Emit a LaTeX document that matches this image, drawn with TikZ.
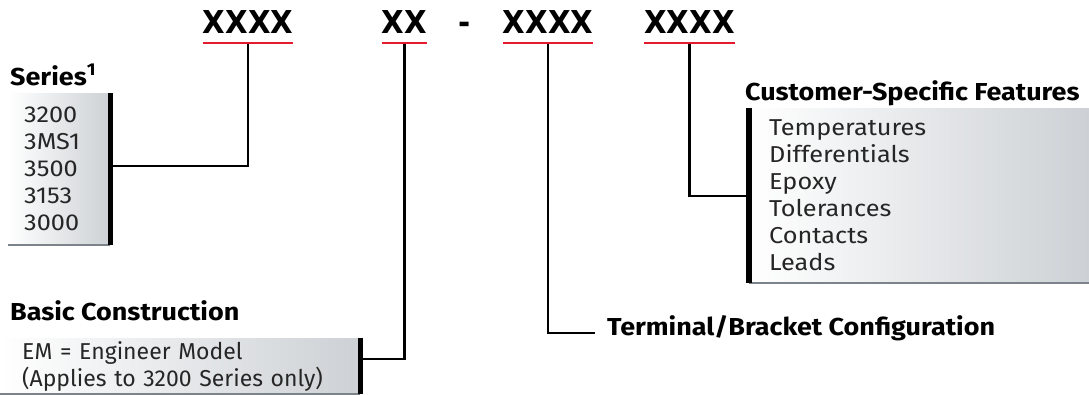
\documentclass[tikz,border=0pt]{standalone}
\usepackage{fontspec}
\setmainfont{Fira Sans}[FakeStretch=1.1]
\newfontfamily\plainfont{Fira Sans}
\newfontfamily\codefont{DejaVu Sans}[FakeStretch=0.93]
\usetikzlibrary{positioning}
\definecolor{hwred}{HTML}{E31B2D}
\definecolor{boxgray}{HTML}{CDD1D5}
\definecolor{edgegray}{HTML}{7C838B}
\definecolor{ink}{HTML}{262626}

\begin{document}
\begin{tikzpicture}[x=1pt,y=-1pt,
  code/.style={font=\codefont\bfseries\fontsize{31.5}{31.5}\selectfont,inner sep=0pt,anchor=base},
  uline/.style={hwred,line width=2pt},
  link/.style={line width=2.2pt},
  head/.style={font=\fontsize{24.5}{24.5}\selectfont\bfseries,inner sep=0pt,anchor=base west},
  listbox/.style={left color=white,right color=boxgray,anchor=north west,align=left,inner ysep=0pt,text=ink,font=\fontsize{23}{27}\selectfont},
  bar/.style={line width=5.5pt},
  rim/.style={edgegray,line width=2pt}]
  \useasboundingbox (0,0) rectangle (1089,394);
  % part number fields
  \node[code] (c1) at (248,33) {XXXX};
  \node[code] (c2) at (404.5,33) {XX};
  \node[code] (dash) at (465,33) {-};
  \node[code] (c3) at (548,33) {XXXX};
  \node[code] (c4) at (689.5,33) {XXXX};
  \foreach \cd in {c1,c2,c3,c4}
    \draw[uline] ([yshift=-10pt]\cd.base west) -- ([yshift=-10pt]\cd.base east);
  % option boxes
  \node[listbox,minimum width=102,minimum height=152,text width=70,inner xsep=16pt] (ser) at (8,93) {3200\\3MS1\\3500\\3153\\3000};
  \node[listbox,minimum width=360,minimum height=56,text width=316,inner xsep=22pt,font=\plainfont\fontsize{23}{27}\selectfont] (bc) at (0,338) {EM = Engineer Model\\(Applies to 3200 Series only)};
  \node[listbox,minimum width=340,minimum height=175,text width=300,inner xsep=20pt] (csf) at (749,108) {Temperatures\\Differentials\\Epoxy\\Tolerances\\Contacts\\Leads};
  \draw[rim] (ser.south west) -- (ser.south east);
  \draw[rim] (bc.south west) -- (bc.south east);
  \draw[rim] (csf.south west) -- (csf.south east);
  \draw[bar] (ser.north east) -- (ser.south east);
  \draw[bar] (bc.north east) -- (bc.south east);
  \draw[bar] (csf.north west) -- (csf.south west);
  % headings
  \node[head] (sert) at (10,85) {Series\textsuperscript{1}};
  \node[head] (bct) at (10,320) {Basic Construction};
  \node[head] (csft) at (745,100) {Customer-Specific Features};
  \node[head,anchor=mid west] (term) at (607,333) {Terminal/Bracket Configuration};
  % connectors
  \draw[link] ([yshift=-11pt]c1.base) |- ([yshift=3pt]ser.east);
  \draw[link] ([yshift=-11pt]c2.base) |- ([yshift=7pt]bc.east);
  \draw[link] ([yshift=-11pt]c3.base) |- ([xshift=-12pt]term.mid west);
  \draw[link] ([yshift=-11pt]c4.base) |- (csf.west);
\end{tikzpicture}
\end{document}
